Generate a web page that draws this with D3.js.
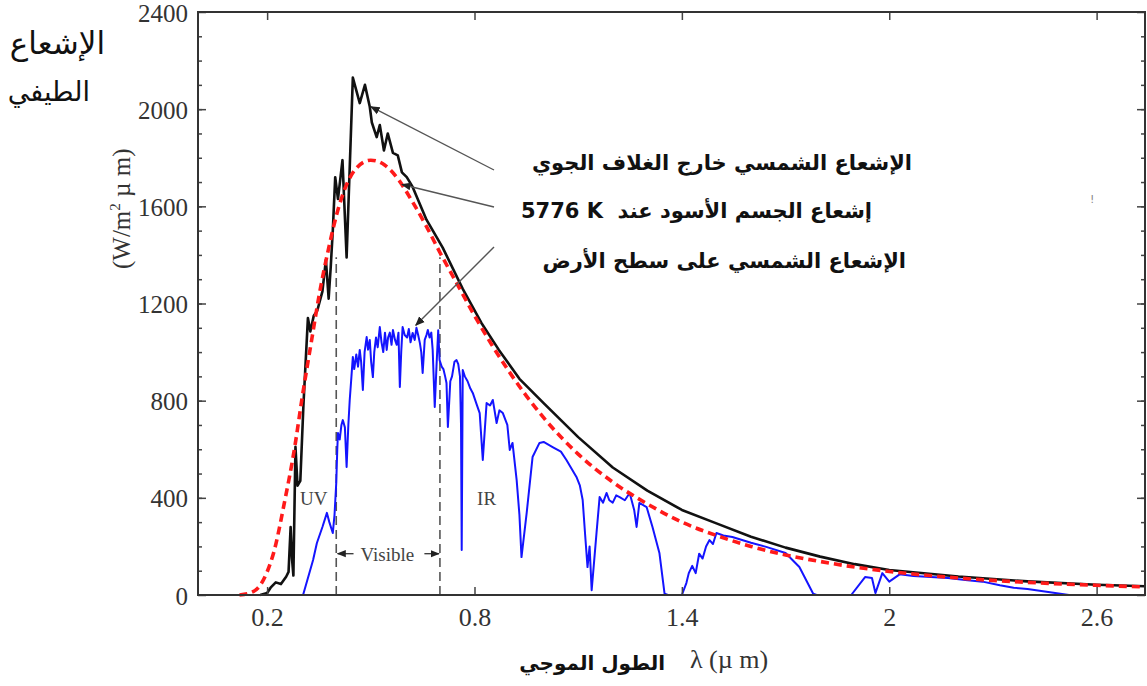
<!DOCTYPE html>
<html lang="ar">
<head>
<meta charset="UTF-8">
<title>Solar spectrum</title>
<script src="https://d3js.org/d3.v7.min.js"></script>
<style>
    body { margin: 0; background: #fff; }
    svg { display: block; }
    .tick text { font-family: "Liberation Serif", serif; fill: #333; }
</style>
</head>
<body>
<script>
// wavelengths (um) and spectral irradiance (W/m^2 um)

// extraterrestrial solar irradiance (black)
const sunWl = [0.18, 0.20, 0.21, 0.225, 0.24, 0.255, 0.262, 0.268, 0.272, 0.276, 0.282, 0.288, 0.296, 0.305,
    0.318, 0.325, 0.335, 0.345, 0.36, 0.37, 0.378, 0.384, 0.39, 0.397, 0.405, 0.418, 0.43, 0.448, 0.468,
    0.483, 0.497, 0.503, 0.517, 0.526, 0.538, 0.549, 0.564, 0.578, 0.59, 0.604, 0.621, 0.661, 0.708, 0.766,
    0.82, 0.87, 0.93, 1.0, 1.1, 1.2, 1.3, 1.4, 1.5, 1.6, 1.7, 1.8, 1.9, 2.0, 2.2, 2.4, 2.6, 2.74];
const sunVal = [0, 8, 30, 52, 45, 75, 95, 280, 150, 80, 610, 450, 470, 780,
    1140, 1085, 1150, 1170, 1250, 1380, 1220, 1350, 1500, 1720, 1630, 1790, 1390, 2130, 2025,
    2100, 2010, 1945, 1885, 1935, 1830, 1900, 1820, 1810, 1740, 1720, 1680, 1545, 1430, 1260,
    1120, 1010, 890, 790, 650, 525, 430, 350, 295, 240, 195, 158, 127, 103, 76, 56, 42, 36];

// black body at 5776 K (red dashed)
const bbWl = [0.12, 0.15, 0.18, 0.20, 0.22, 0.25, 0.28, 0.30, 0.33, 0.35, 0.38, 0.40, 0.43, 0.46, 0.50,
    0.54, 0.58, 0.62, 0.66, 0.70, 0.75, 0.80, 0.85, 0.90, 0.95, 1.0, 1.1, 1.2, 1.3, 1.4, 1.5, 1.6, 1.7,
    1.8, 1.9, 2.0, 2.2, 2.4, 2.6, 2.74];
const bbVal = [0, 8, 40, 95, 180, 380, 610, 800, 1060, 1230, 1440, 1560, 1690, 1760, 1790,
    1770, 1710, 1620, 1520, 1410, 1280, 1150, 1030, 920, 820, 730, 580, 465, 375, 300, 245, 200, 165,
    138, 115, 97, 70, 52, 40, 33];

// solar irradiance at ground level (blue)
const groundWl = [0.304, 0.333, 0.344, 0.36, 0.373, 0.38, 0.39, 0.395, 0.40, 0.403, 0.405, 0.41, 0.415,
    0.419, 0.425, 0.43, 0.435, 0.439, 0.444, 0.448, 0.452, 0.458, 0.463, 0.468, 0.472, 0.477, 0.482,
    0.488, 0.492, 0.497, 0.501, 0.506, 0.51, 0.515, 0.52, 0.526, 0.531, 0.536, 0.541, 0.546, 0.55,
    0.555, 0.56, 0.564, 0.57, 0.575, 0.58, 0.584, 0.588, 0.592, 0.598, 0.605, 0.61, 0.615, 0.621,
    0.627, 0.632, 0.637, 0.642, 0.646, 0.65, 0.656, 0.661, 0.665, 0.67, 0.675, 0.679, 0.685, 0.69,
    0.695, 0.699, 0.705, 0.71, 0.715, 0.719, 0.723, 0.73, 0.735, 0.742, 0.748, 0.753, 0.758, 0.761,
    0.763, 0.766, 0.772, 0.78, 0.788, 0.795, 0.805, 0.815, 0.824, 0.835, 0.845, 0.853, 0.864, 0.872,
    0.882, 0.895, 0.902, 0.91, 0.922, 0.93, 0.936, 0.951, 0.968, 0.988, 1.0, 1.026, 1.05, 1.066, 1.095,
    1.105, 1.113, 1.12, 1.127, 1.133, 1.139, 1.145, 1.153, 1.162, 1.172, 1.182, 1.19, 1.2, 1.21, 1.22,
    1.235, 1.249, 1.262, 1.269, 1.277, 1.298, 1.315, 1.335, 1.35, 1.36, 1.40, 1.413, 1.42, 1.43, 1.44,
    1.45, 1.46, 1.47, 1.48, 1.49, 1.50, 1.52, 1.546, 1.60, 1.644, 1.70, 1.74, 1.78, 1.79, 1.89, 1.93,
    1.95, 1.96, 1.98, 2.0, 2.03, 2.07, 2.12, 2.17, 2.22, 2.27, 2.32, 2.36, 2.40, 2.47, 2.52, 2.74];
const groundVal = [0, 144, 214, 280, 338, 300, 255, 330, 461, 600, 667, 640, 700,
    720, 690, 527, 700, 803, 900, 980, 930, 990, 940, 1009, 960, 844, 1000,
    1062, 1010, 1050, 960, 897, 1000, 1060, 1020, 1103, 1040, 1000, 1080, 1009, 1060,
    1080, 1030, 1091, 1050, 1030, 1080, 856, 1000, 1103, 1070, 1060, 1095, 1040, 1079,
    1050, 1100, 1070, 1037, 1000, 914, 1050, 1070, 1091, 1060, 1080, 1009, 774, 940,
    1090, 967, 940, 930, 900, 873, 692, 880, 900, 960, 967, 950, 900, 700,
    185, 926, 900, 880, 850, 832, 790, 749, 556, 790, 780, 803, 708, 760,
    749, 700, 597, 626, 473, 330, 156, 338, 568, 626, 630, 609, 590, 556, 486,
    450, 391, 250, 115, 200, 20, 120, 255, 403, 380, 420, 390, 380, 410, 403,
    390, 420, 350, 280, 379, 362, 280, 173, 5, 0, 0, 49, 90, 120, 90,
    170, 150, 200, 226, 210, 255, 245, 239, 215, 198, 173, 115, 5, 0, 0, 74,
    70, 8, 90, 55, 85, 78, 74, 70, 62, 55, 40, 30, 25, 10, 0, 0];

const xTicks = [0.2, 0.8, 1.4, 2, 2.6];
const yTicks = [0, 400, 800, 1200, 1600, 2000, 2400];
const visibleBand = [0.4, 0.7];

const seriesNames = [
    "الإشعاع الشمسي خارج الغلاف الجوي",
    "5776 K\u00A0 إشعاع الجسم الأسود عند",
    "الإشعاع الشمسي على سطح الأرض"
];
// where each pointer touches its curve (um, W/m^2 um)
const pointerWl = [0.50, 0.59, 0.63];
const pointerVal = [2010, 1690, 1110];

const width = 1147, height = 686;
const plot = { left: 198, top: 12, right: 1145, bottom: 595 };

const svg = d3.select("body").append("svg")
    .attr("width", width)
    .attr("height", height);

const x = d3.scaleLinear().domain([0, 2.74]).range([plot.left, plot.right]);
const y = d3.scaleLinear().domain([0, 2400]).range([plot.bottom, plot.top]);

// arrow head
svg.append("defs").append("marker")
    .attr("id", "head")
    .attr("viewBox", "0 0 10 10")
    .attr("refX", 9).attr("refY", 5)
    .attr("markerWidth", 7).attr("markerHeight", 7)
    .attr("orient", "auto-start-reverse")
    .append("path")
    .attr("d", "M0,1 L10,5 L0,9 Z")
    .attr("fill", "#222");

// visible band borders
svg.selectAll(".band")
    .data(visibleBand)
    .enter().append("line")
    .attr("x1", d => x(d)).attr("x2", d => x(d))
    .attr("y1", y(0)).attr("y2", y(1390))
    .attr("stroke", "#555")
    .attr("stroke-width", 1.6)
    .attr("stroke-dasharray", "9,5");

const line = d3.line().x(d => x(d[0])).y(d => y(d[1]));

svg.append("path")
    .datum(d3.zip(groundWl, groundVal))
    .attr("d", line)
    .attr("fill", "none")
    .attr("stroke", "#1414ff")
    .attr("stroke-width", 2)
    .attr("stroke-linejoin", "round");

svg.append("path")
    .datum(d3.zip(sunWl, sunVal))
    .attr("d", line)
    .attr("fill", "none")
    .attr("stroke", "#111")
    .attr("stroke-width", 2.6)
    .attr("stroke-linejoin", "round");

svg.append("path")
    .datum(d3.zip(bbWl, bbVal))
    .attr("d", d3.line().x(d => x(d[0])).y(d => y(d[1])).curve(d3.curveMonotoneX))
    .attr("fill", "none")
    .attr("stroke", "#ff1a1a")
    .attr("stroke-width", 3.6)
    .attr("stroke-dasharray", "8,5");

// axes, ticks pointing inward
const left = svg.append("g").attr("transform", `translate(${plot.left},0)`)
    .call(d3.axisLeft(y).tickValues(yTicks).tickSize(-8).tickPadding(10).tickFormat(d3.format("d")));
left.selectAll("text").style("font-size", "25px").attr("dy", "0.36em");

svg.append("g").attr("transform", `translate(${plot.left},0)`)
    .call(d3.axisLeft(y).tickValues(d3.range(100, 2400, 100)).tickSize(-4).tickFormat(""));

svg.append("g").attr("transform", `translate(${plot.right},0)`)
    .call(d3.axisRight(y).tickValues(yTicks).tickSize(-8).tickFormat(""));
svg.append("g").attr("transform", `translate(${plot.right},0)`)
    .call(d3.axisRight(y).tickValues(d3.range(100, 2400, 100)).tickSize(-4).tickFormat(""));

const bottom = svg.append("g").attr("transform", `translate(0,${plot.bottom})`)
    .call(d3.axisBottom(x).tickValues(xTicks).tickSize(-8).tickPadding(13).tickFormat(d => d));
bottom.selectAll("text").style("font-size", "26px");

svg.append("g").attr("transform", `translate(0,${plot.top})`)
    .call(d3.axisTop(x).tickValues(xTicks).tickSize(-8).tickFormat(""));

svg.selectAll(".domain").remove();
svg.selectAll(".tick line").attr("stroke", "#444").attr("stroke-width", 1.5);

svg.append("rect")
    .attr("x", plot.left).attr("y", plot.top)
    .attr("width", plot.right - plot.left).attr("height", plot.bottom - plot.top)
    .attr("fill", "none")
    .attr("stroke", "#333")
    .attr("stroke-width", 2);

// axis titles
svg.append("text")
    .attr("transform", `translate(130,${y(1590)}) rotate(-90)`)
    .attr("text-anchor", "middle")
    .style("font-family", "Liberation Serif, serif")
    .style("font-size", "25px")
    .attr("fill", "#333")
    .html('(W/m<tspan dy="-10" font-size="15">2</tspan><tspan dy="10"> µ m)</tspan>');

svg.append("text")
    .attr("x", 690).attr("y", 668)
    .style("font-family", "Liberation Serif, serif")
    .style("font-size", "26px")
    .attr("fill", "#333")
    .text("λ (µ m)");

svg.append("text")
    .attr("x", 665).attr("y", 670)
    .attr("text-anchor", "end")
    .style("font-family", "DejaVu Sans, sans-serif")
    .style("font-weight", "bold")
    .style("font-size", "20px")
    .attr("fill", "#111")
    .text("الطول الموجي");

svg.append("text")
    .attr("x", 105).attr("y", 54)
    .attr("text-anchor", "end")
    .style("font-family", "DejaVu Sans, sans-serif")
    .style("font-size", "31px")
    .attr("fill", "#111")
    .text("الإشعاع");

svg.append("text")
    .attr("x", 90).attr("y", 101)
    .attr("text-anchor", "end")
    .style("font-family", "DejaVu Sans, sans-serif")
    .style("font-size", "27px")
    .attr("fill", "#111")
    .text("الطيفي");

// band labels
const small = g => g.style("font-family", "Liberation Serif, serif").style("font-size", "19px").attr("fill", "#444");

svg.append("text").attr("x", x(0.335)).attr("y", y(370)).attr("text-anchor", "middle").call(small).text("UV");
svg.append("text").attr("x", x(0.835)).attr("y", y(370)).attr("text-anchor", "middle").call(small).text("IR");
svg.append("text").attr("x", x(0.548)).attr("y", y(140)).attr("text-anchor", "middle").call(small).text("Visible");

svg.append("line")
    .attr("x1", x(0.45)).attr("x2", x(0.404))
    .attr("y1", y(170)).attr("y2", y(170))
    .attr("stroke", "#333").attr("stroke-width", 1.3)
    .attr("marker-end", "url(#head)");
svg.append("line")
    .attr("x1", x(0.655)).attr("x2", x(0.697))
    .attr("y1", y(170)).attr("y2", y(170))
    .attr("stroke", "#333").attr("stroke-width", 1.3)
    .attr("marker-end", "url(#head)");

// legend pointers and labels
const labelY = [170, 218, 268];
const labelRight = [912, 872, 906];
const tailY = [170, 207, 247];

svg.selectAll(".pointer")
    .data(seriesNames)
    .enter().append("line")
    .attr("x1", 494)
    .attr("y1", (d, i) => tailY[i])
    .attr("x2", (d, i) => x(pointerWl[i]))
    .attr("y2", (d, i) => y(pointerVal[i]))
    .attr("stroke", "#555")
    .attr("stroke-width", 1.4)
    .attr("marker-end", "url(#head)");

svg.selectAll(".label")
    .data(seriesNames)
    .enter().append("text")
    .attr("x", (d, i) => labelRight[i])
    .attr("y", (d, i) => labelY[i])
    .attr("text-anchor", "end")
    .style("font-family", "DejaVu Sans, sans-serif")
    .style("font-weight", "bold")
    .style("font-size", "21px")
    .attr("fill", "#111")
    .text(d => d);

// stray marks in the scan
svg.append("text").attr("x", 1090).attr("y", 203).attr("fill", "#888")
    .style("font-size", "11px").style("font-family", "DejaVu Sans").text("!");
</script>
</body>
</html>
